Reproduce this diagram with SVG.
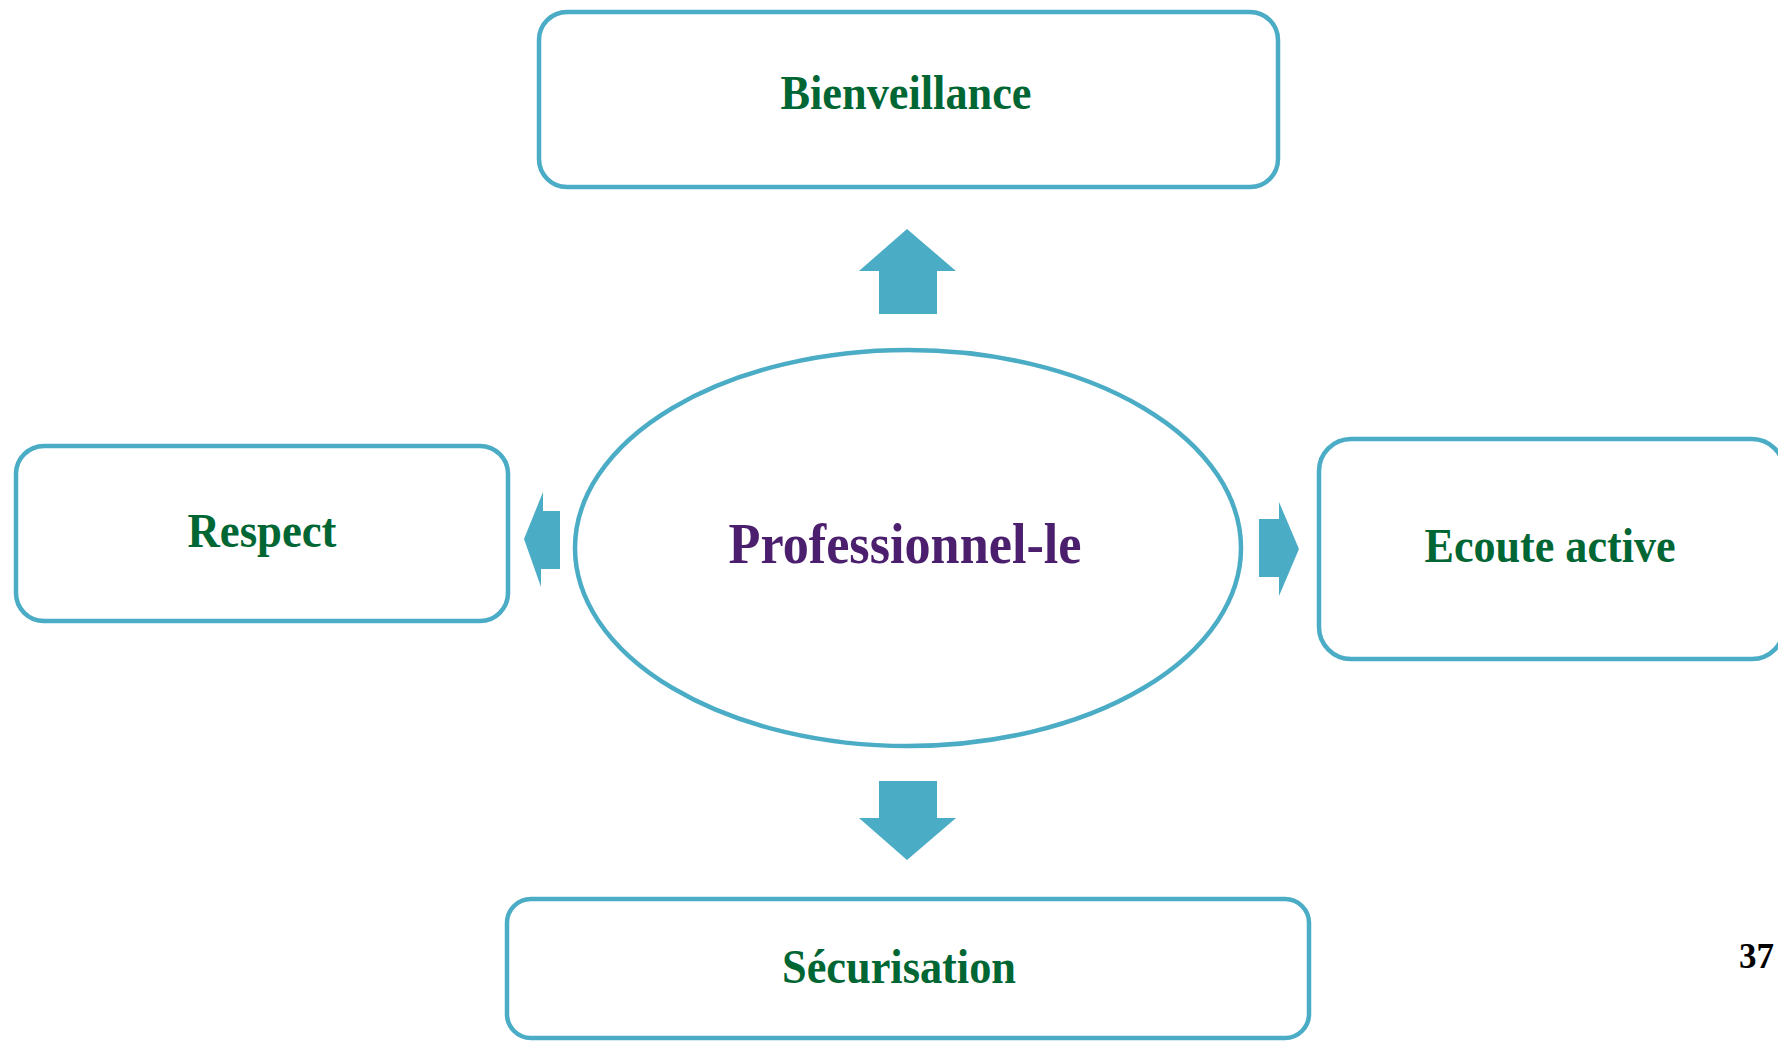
<svg xmlns="http://www.w3.org/2000/svg" width="1778" height="1041" viewBox="0 0 1778 1041">
<style>
.box{fill:#ffffff;stroke:#4BACC6;stroke-width:4.5}
.arrow{fill:#4BACC6;stroke:none}
.lbl{font-family:"Liberation Serif","Times New Roman",serif;font-weight:bold;font-size:48px;fill:#006633;text-anchor:middle}
.center{font-family:"Liberation Serif","Times New Roman",serif;font-weight:bold;font-size:58px;fill:#4B1F6E;text-anchor:middle}
.page{font-family:"Liberation Serif","Times New Roman",serif;font-weight:bold;font-size:35px;fill:#000000}
</style>
<rect width="1778" height="1041" fill="#ffffff"/>
<g id="connectors">
<polygon class="arrow" points="907,229 956,271 937,271 937,314 879,314 879,271 859,271"/>
<polygon class="arrow" points="907,860 956,818 937,818 937,781 879,781 879,818 859,818"/>
<polygon class="arrow" points="524,539 543,492 543,511 560,511 560,569 541,569 541,587"/>
<polygon class="arrow" points="1299,549 1279,502 1279,519 1259,519 1259,577 1279,577 1279,596"/>
</g>
<g id="node-bienveillance">
<rect class="box" x="539" y="12" width="739" height="175" rx="28"/>
<text class="lbl" x="906" y="109" textLength="251" lengthAdjust="spacingAndGlyphs">Bienveillance</text>
</g>
<g id="node-professionnel">
<ellipse class="box" cx="908" cy="548" rx="333" ry="198"/>
<text class="center" x="905" y="563" textLength="353" lengthAdjust="spacingAndGlyphs">Professionnel-le</text>
</g>
<g id="node-respect">
<rect class="box" x="16" y="446" width="492" height="175" rx="28"/>
<text class="lbl" x="262" y="547" textLength="149" lengthAdjust="spacingAndGlyphs">Respect</text>
</g>
<g id="node-ecoute">
<rect class="box" x="1319" y="439" width="465" height="220" rx="32"/>
<text class="lbl" x="1550" y="562" textLength="251" lengthAdjust="spacingAndGlyphs">Ecoute active</text>
</g>
<g id="node-securisation">
<rect class="box" x="507" y="899" width="802" height="139" rx="24"/>
<text class="lbl" x="899" y="983" textLength="234" lengthAdjust="spacingAndGlyphs">Sécurisation</text>
</g>
<text class="page" x="1739" y="968">37</text>
</svg>
